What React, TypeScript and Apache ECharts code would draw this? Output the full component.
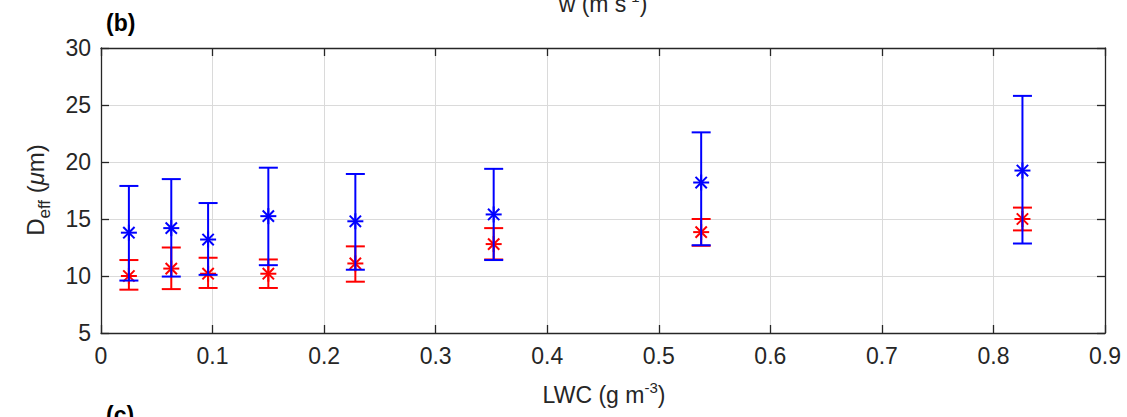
import React, { useEffect, useRef } from "react";
import * as echarts from "echarts";

// ---- data ----
const lwc = [0.025, 0.063, 0.096, 0.15, 0.228, 0.352, 0.538, 0.826];
const blueMean = [13.8, 14.2, 13.2, 15.25, 14.8, 15.4, 18.2, 19.25];
const blueLow = [9.6, 9.95, 10.1, 10.95, 10.55, 11.4, 12.7, 12.85];
const blueHigh = [17.9, 18.5, 16.4, 19.5, 18.95, 19.4, 22.6, 25.8];
const redMean = [10.0, 10.65, 10.2, 10.2, 11.1, 12.8, 13.85, 15.0];
const redLow = [8.8, 8.85, 8.95, 8.95, 9.5, 11.45, 12.65, 14.0];
const redHigh = [11.4, 12.5, 11.6, 11.45, 12.6, 14.2, 15.0, 16.0];

const xTicks = { min: 0, max: 0.9, interval: 0.1 };
const yTicks = { min: 5, max: 30, interval: 5 };

const FONT = '"Liberation Sans", Arial, Helvetica, sans-serif';
const AX = "#262626";
const GRID = "#dadada";

function makeErrSeries(name: string, color: string, mean: number[], low: number[], high: number[]) {
  const data = lwc.map((x, i) => [x, low[i], mean[i], high[i]]);
  return {
    type: "custom",
    name,
    data,
    encode: { x: 0, y: [1, 2, 3] },
    renderItem: (params: any, api: any) => {
      const x = api.value(0);
      const pLo = api.coord([x, api.value(1)]);
      const pM = api.coord([x, api.value(2)]);
      const pHi = api.coord([x, api.value(3)]);
      const cw = 9.5;
      const r = 8;
      const d = r * 0.7071;
      const style = { stroke: color, lineWidth: 2, fill: null };
      const ln = (x1: number, y1: number, x2: number, y2: number) => ({
        type: "line",
        shape: { x1, y1, x2, y2 },
        style,
      });
      return {
        type: "group",
        children: [
          ln(pHi[0], pHi[1], pLo[0], pLo[1]),
          ln(pHi[0] - cw, pHi[1], pHi[0] + cw, pHi[1]),
          ln(pLo[0] - cw, pLo[1], pLo[0] + cw, pLo[1]),
          ln(pM[0] - r, pM[1], pM[0] + r, pM[1]),
          ln(pM[0], pM[1] - r, pM[0], pM[1] + r),
          ln(pM[0] - d, pM[1] - d, pM[0] + d, pM[1] + d),
          ln(pM[0] - d, pM[1] + d, pM[0] + d, pM[1] - d),
        ],
      };
    },
  };
}

export default function App() {
  const ref = useRef<HTMLDivElement>(null);
  useEffect(() => {
    if (!ref.current) return;
    const chart = echarts.init(ref.current, null, { renderer: "svg" });
    const lineStyle = { color: AX, width: 1.3 };
    const baseX = {
      type: "value",
      min: xTicks.min,
      max: xTicks.max,
      interval: xTicks.interval,
      axisLine: { show: true, onZero: false, lineStyle },
      axisTick: { show: true, inside: true, length: 8, lineStyle },
    };
    const baseY = {
      type: "value",
      min: yTicks.min,
      max: yTicks.max,
      interval: yTicks.interval,
      axisLine: { show: true, onZero: false, lineStyle },
      axisTick: { show: true, inside: true, length: 8, lineStyle },
    };
    const option: any = {
      animation: false,
      backgroundColor: "#ffffff",
      grid: { left: 101, top: 48, width: 1004, height: 285, containLabel: false },
      xAxis: [
        {
          ...baseX,
          position: "bottom",
          axisLabel: {
            show: true,
            fontSize: 23,
            color: AX,
            fontFamily: FONT,
            margin: 11,
            showMinLabel: true,
            showMaxLabel: true,
            formatter: (v: number) => String(Math.round(v * 10) / 10),
          },
          splitLine: { show: true, lineStyle: { color: GRID, width: 1 } },
        },
        {
          ...baseX,
          position: "top",
          axisLabel: { show: false },
          splitLine: { show: false },
        },
      ],
      yAxis: [
        {
          ...baseY,
          position: "left",
          axisLabel: {
            show: true,
            fontSize: 23,
            color: AX,
            fontFamily: FONT,
            margin: 10,
            showMinLabel: true,
            showMaxLabel: true,
          },
          splitLine: { show: true, lineStyle: { color: GRID, width: 1 } },
        },
        {
          ...baseY,
          position: "right",
          axisLabel: { show: false },
          splitLine: { show: false },
        },
      ],
      series: [
        makeErrSeries("red", "#ff0000", redMean, redLow, redHigh),
        makeErrSeries("blue", "#0000ff", blueMean, blueLow, blueHigh),
      ],
      graphic: [
        {
          type: "text",
          x: 106,
          y: 11,
          style: { text: "(b)", font: `bold 23px ${FONT}`, fill: "#000", align: "left", verticalAlign: "top" },
        },
        {
          type: "text",
          x: 106,
          y: 403,
          style: { text: "(c)", font: `bold 23px ${FONT}`, fill: "#000", align: "left", verticalAlign: "top" },
        },
        {
          type: "text",
          x: 603,
          y: 4,
          style: {
            text: "{n|w (m s}{s|-1}{n|)}",
            align: "center",
            verticalAlign: "middle",
            rich: {
              n: { fontSize: 23, fontFamily: FONT, fill: AX, lineHeight: 30 },
              s: { fontSize: 15, fontFamily: FONT, fill: AX, verticalAlign: "top" },
            },
          },
        },
        {
          type: "text",
          x: 604,
          y: 395,
          style: {
            text: "{n|LWC (g m}{s|-3}{n|)}",
            align: "center",
            verticalAlign: "middle",
            rich: {
              n: { fontSize: 23, fontFamily: FONT, fill: AX, lineHeight: 30 },
              s: { fontSize: 15, fontFamily: FONT, fill: AX, verticalAlign: "top" },
            },
          },
        },
        {
          type: "text",
          x: 35,
          y: 190,
          rotation: Math.PI / 2,
          style: {
            text: "{n|D}{b|eff}{n| (}{i|μ}{n|m)}",
            align: "center",
            verticalAlign: "middle",
            rich: {
              n: { fontSize: 24, fontFamily: FONT, fill: AX, lineHeight: 36 },
              b: { fontSize: 17, fontFamily: FONT, fill: AX, verticalAlign: "bottom" },
              i: { fontSize: 24, fontFamily: FONT, fontStyle: "italic", fill: AX, lineHeight: 36 },
            },
          },
        },
      ],
    };
    chart.setOption(option);
    return () => chart.dispose();
  }, []);
  return (
    <div
      ref={ref}
      style={{ position: "fixed", left: 0, top: 0, width: 1127, height: 417, background: "#fff" }}
    />
  );
}
